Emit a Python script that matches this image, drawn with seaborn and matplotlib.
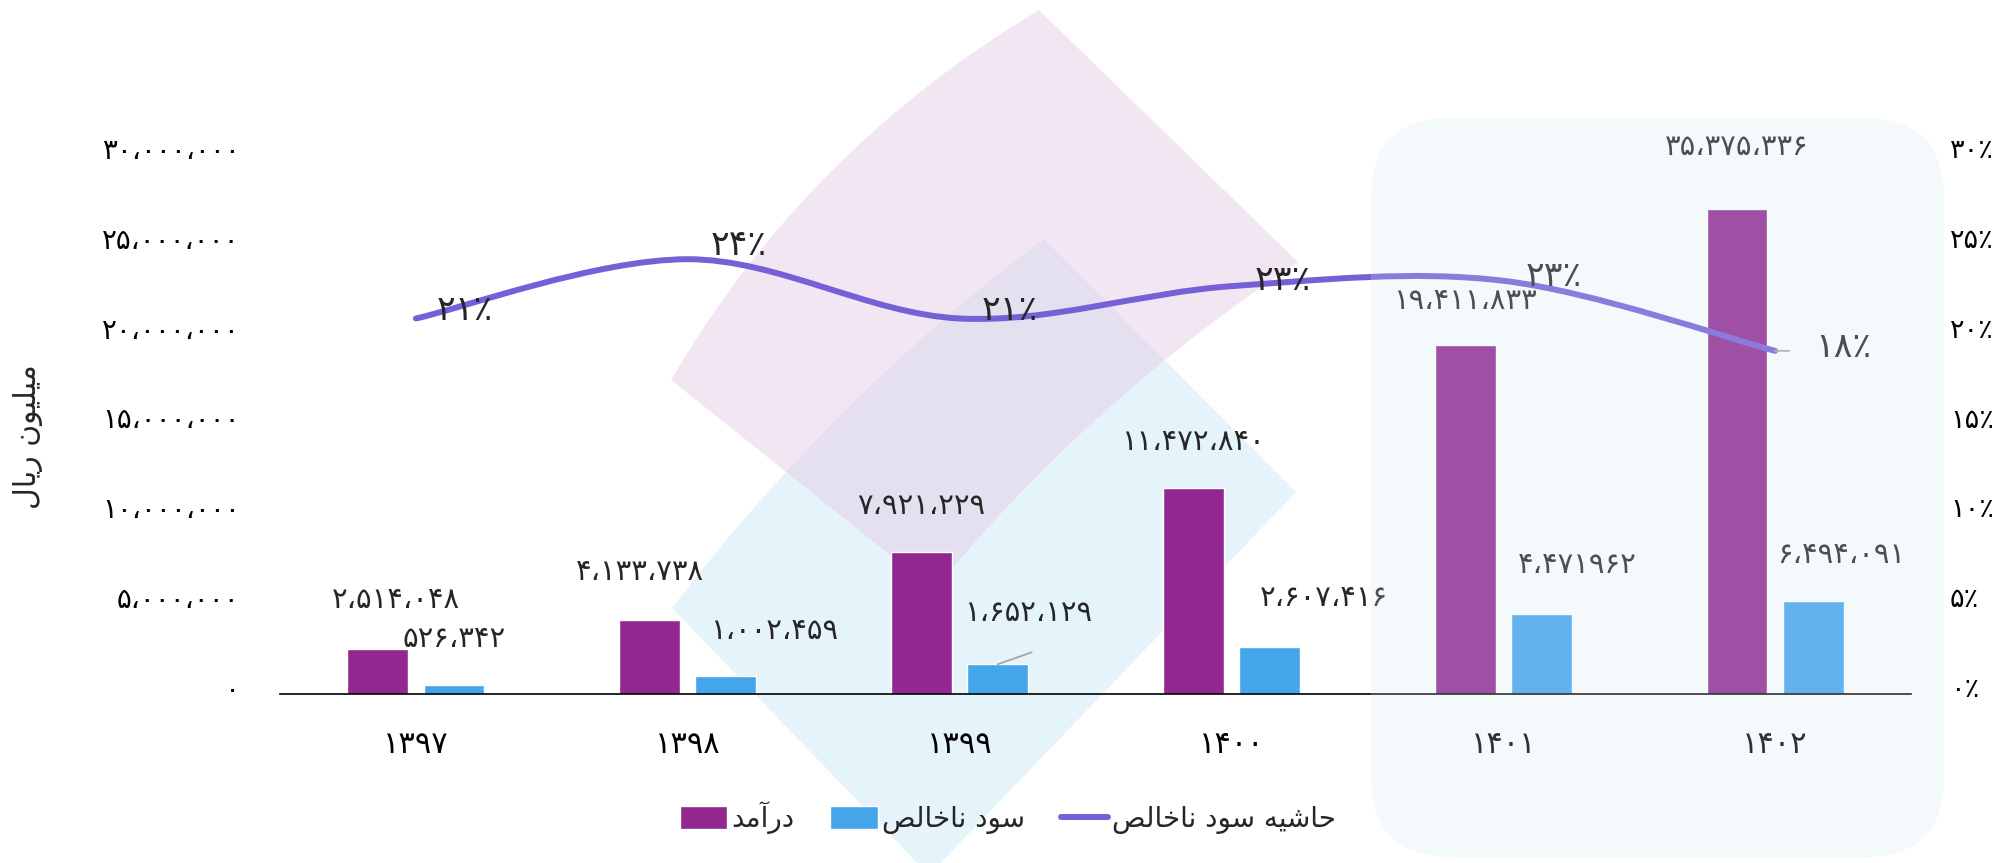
import numpy as np
import pandas as pd
import matplotlib
matplotlib.use("Agg")
import matplotlib.pyplot as plt
import seaborn as sns
from matplotlib.patches import Patch, PathPatch, FancyBboxPatch
from matplotlib.path import Path
from matplotlib.lines import Line2D
from matplotlib.transforms import IdentityTransform, ScaledTranslation
from matplotlib.ticker import FuncFormatter


# داده‌ها
years = ["1397", "1398", "1399", "1400", "1401", "1402"]
revenue = [2514048, 4133738, 7921229, 11472840, 19411833, 27000000]
gross_profit = [526342, 1002459, 1652129, 2607416, 4471962, 5170000]
margin = [20.9, 24.2, 20.9, 22.7, 23.0, 19.1]

revenue_labels = ["2,514,048", "4,133,738", "7,921,229", "11,472,840", "19,411,833", "35,375,336"]
profit_labels = ["526,342", "1,002,459", "1,652,129", "2,607,416", "4,471962", "6,494,091"]
margin_labels = ["21%", "24%", "21%", "23%", "23%", "18%"]

# جابجایی برچسب‌ها (پیکسل)
rev_offsets = [(18, 49), (-10, 48), (0, 46), (0, 46), (0, 44), (0, 62)]
gp_offsets = [(0, 46), (48, 45), (30, 51), (54, 49), (36, 49), (28, 46)]
margin_offsets = [(49, 8), (51, 14), (50, 8), (51, 6), (50, 5), (68, 4)]

REV_COLOR = "#92278F"
GP_COLOR = "#45A5EA"
LINE_COLOR = "#7560D8"

FA = str.maketrans("0123456789,%", "۰۱۲۳۴۵۶۷۸۹،٪")


def fa(s):
    return s.translate(FA)


def shaped(codes):
    # حروف شکل‌دار، به ترتیب نمایش چپ به راست
    return "".join(chr(c) for c in reversed(codes))


YLABEL = shaped([0xFEE3, 0xFEF4, 0xFEE0, 0xFEF4, 0xFEEE, 0xFEE5, 0x20,
                 0xFEAD, 0xFEF3, 0xFE8E, 0xFEDD])
REV = shaped([0xFEA9, 0xFEAD, 0xFE81, 0xFEE3, 0xFEAA])
GP = shaped([0xFEB3, 0xFEEE, 0xFEA9, 0x20,
             0xFEE7, 0xFE8E, 0xFEA7, 0xFE8E, 0xFEDF, 0xFEBA])
MARGIN = shaped([0xFEA3, 0xFE8E, 0xFEB7, 0xFEF4, 0xFEEA, 0x20,
                 0xFEB3, 0xFEEE, 0xFEA9, 0x20,
                 0xFEE7, 0xFE8E, 0xFEA7, 0xFE8E, 0xFEDF, 0xFEBA])

sns.set_theme(style="white")
plt.rcParams['font.family'] = ['DejaVu Sans']

W, H = 2016, 863
fig = plt.figure(figsize=(W / 100, H / 100), dpi=100)
fig.patch.set_facecolor("white")


def fig_path(pts_top, curves=None):
    """مسیر در مختصات پیکسلی (y از بالا)."""
    verts, codes = [], []
    curves = curves or {}
    for i, p in enumerate(pts_top):
        p = (p[0], H - p[1])
        if i == 0:
            verts.append(p)
            codes.append(Path.MOVETO)
        else:
            if i in curves:
                c = curves[i]
                verts.append((c[0], H - c[1]))
                codes.append(Path.CURVE3)
                verts.append(p)
                codes.append(Path.CURVE3)
            else:
                verts.append(p)
                codes.append(Path.LINETO)
    verts.append(verts[0])
    codes.append(Path.CLOSEPOLY)
    return Path(verts, codes)


# اشکال تزئینی پس‌زمینه
blue_shape = fig_path([(672, 608), (1044, 239), (1296, 492), (929, 875)],
                      curves={1: (835, 395)})
fig.add_artist(PathPatch(blue_shape, transform=IdentityTransform(),
                         facecolor="#E5F3FA", edgecolor="none", zorder=-6))
pink_shape = fig_path([(671, 380), (1039, 10), (1298, 262), (934, 590)],
                      curves={1: (805, 150), 3: (1090, 400)})
fig.add_artist(PathPatch(pink_shape, transform=IdentityTransform(),
                         facecolor=(229 / 255, 207 / 255, 231 / 255), alpha=0.5,
                         edgecolor="none", zorder=-5))

ax = fig.add_axes([280 / W, 169 / H, 1631 / W, 539 / H])
ax.set_facecolor("none")

df = pd.DataFrame({
    "year": years * 2,
    "value": revenue + gross_profit,
    "series": [REV] * len(years) + [GP] * len(years),
})
sns.barplot(data=df, x="year", y="value", hue="series",
            palette=[REV_COLOR, GP_COLOR], saturation=1,
            width=0.56, gap=0.2, legend=False, ax=ax)

ax.set_xlim(-0.5, len(years) - 0.5)
ax.set_ylim(0, 30_000_000)
ax.set_xlabel("")
ax.set_ylabel("")
for s in ["left", "top", "right"]:
    ax.spines[s].set_visible(False)
ax.spines["bottom"].set_color("black")
ax.spines["bottom"].set_linewidth(1.2)

ax.set_yticks(np.arange(0, 30_000_001, 5_000_000))
ax.yaxis.set_major_formatter(FuncFormatter(lambda v, p: fa(f"{int(v):,}")))
ax.tick_params(axis="y", length=0, pad=29, labelsize=20, colors="black")
ax.set_xticks(range(len(years)))
ax.set_xticklabels([fa(y) for y in years])
ax.tick_params(axis="x", which="major", length=0, pad=26, labelsize=22, colors="black")
ax.set_xticks(np.arange(-0.5, len(years)), minor=True)
ax.tick_params(axis="x", which="minor", length=7.5, width=1.1, color="black")
ax.grid(False)

# محور دوم: حاشیه سود
ax2 = ax.twinx()
ax2.set_facecolor("none")
ax2.set_ylim(0, 30)
ax2.set_yticks(np.arange(0, 31, 5))
ax2.yaxis.set_major_formatter(FuncFormatter(lambda v, p: fa(f"{int(v)}%")))
ax2.tick_params(axis="y", length=0, pad=28, labelsize=19.5, colors="black")
for s in ax2.spines.values():
    s.set_visible(False)
ax2.grid(False)

# برچسب‌های محور عمودی کمی بالاتر از خط مقدار
lift = ScaledTranslation(0, 7 / 100, fig.dpi_scale_trans)
for a in (ax, ax2):
    for lab in a.get_yticklabels():
        lab.set_transform(lab.get_transform() + lift)

# خط هموار (کاتمول-رام)
pts = np.column_stack([np.arange(len(margin)), margin]).astype(float)
verts, codes = [pts[0]], [Path.MOVETO]
n = len(pts)
for i in range(n - 1):
    p0, p1, p2, p3 = pts[max(i - 1, 0)], pts[i], pts[i + 1], pts[min(i + 2, n - 1)]
    verts += [p1 + (p2 - p0) / 6, p2 - (p3 - p1) / 6, p2]
    codes += [Path.CURVE4] * 3
ax2.add_patch(PathPatch(Path(verts, codes), fill=False, edgecolor=LINE_COLOR,
                        lw=4.3, capstyle="round", zorder=3))

# برچسب‌های داده
for i in range(len(years)):
    ax.annotate(fa(revenue_labels[i]), xy=(i - 0.14, revenue[i]), xytext=rev_offsets[i],
                textcoords="offset pixels", ha="center", va="center", fontsize=21)
    ax.annotate(fa(profit_labels[i]), xy=(i + 0.14, gross_profit[i]), xytext=gp_offsets[i],
                textcoords="offset pixels", ha="center", va="center", fontsize=21)
    ax2.annotate(fa(margin_labels[i]), xy=(i, margin[i]), xytext=margin_offsets[i],
                 textcoords="offset pixels", ha="center", va="center", fontsize=25)

lead = dict(arrowstyle="-", color="#A6A6A6", lw=1.3, shrinkA=0, shrinkB=0)
ax.annotate("", xy=(2 + 0.14, gross_profit[2]), xytext=(34, 12),
            textcoords="offset pixels", arrowprops=lead)
ax2.annotate("", xy=(5, margin[5]), xytext=(14, 0),
             textcoords="offset pixels", arrowprops=lead)

# کادر گرد نیمه‌شفاف روی دو سال آخر
fig.add_artist(FancyBboxPatch((1371, 6), 573, 739,
                              boxstyle="round,pad=0,rounding_size=80",
                              transform=IdentityTransform(),
                              facecolor=(209 / 255, 228 / 255, 241 / 255), alpha=0.22,
                              edgecolor="none", zorder=5))

fig.text(28 / W, (H - 437) / H, YLABEL, rotation=90, ha="center", va="center", fontsize=21.5)

handles = [Patch(facecolor=REV_COLOR), Patch(facecolor=GP_COLOR),
           Line2D([], [], color=LINE_COLOR, lw=4.3, solid_capstyle="round")]
fig.legend(handles, [REV, GP, MARGIN], loc="center", bbox_to_anchor=(0.5, 45 / H),
           ncol=3, frameon=False, fontsize=20, handlelength=1.7, handleheight=0.9,
           handletextpad=0.15, columnspacing=1.3)

fig.savefig("out.png", dpi=100)
